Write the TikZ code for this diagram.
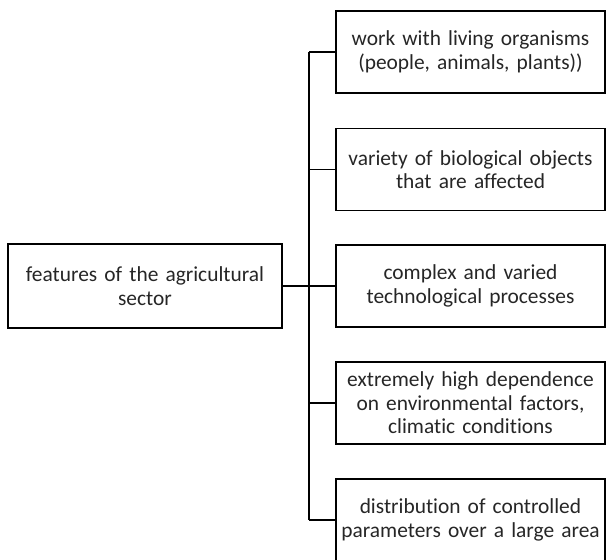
\documentclass[tikz,border=0pt]{standalone}
\usepackage{fontspec}
\setmainfont[Ligatures=NoCommon]{Carlito}
\begin{document}
\begin{tikzpicture}[x=1pt,y=-1pt,
  box/.style={draw=black, line width=1.6pt, inner sep=0pt, align=center,
    font=\fontsize{21.4}{23.5}\selectfont, text=black!85},
  rbox/.style={box, minimum width=269pt, minimum height=82pt, text width=262pt},
  conn/.style={draw=black, line width=1.6pt},
  trunkline/.style={draw=black, line width=2.2pt}]
\useasboundingbox (0,0) rectangle (606,560);
\node[box, minimum width=274pt, minimum height=84pt, text width=266pt] (L) at (145,286) {features of the agricultural\\sector};
\node[rbox] (b1) at (470.5,52) {work with living organisms\\(people, animals, plants))};
\node[rbox] (b2) at (470.5,169.5) {variety of biological objects\\that are affected};
\node[rbox] (b3) at (470.5,286) {complex and varied\\technological processes};
\node[rbox] (b4) at (470.5,403) {extremely high dependence\\on environmental factors,\\climatic conditions};
\node[rbox] (b5) at (470.5,520) {distribution of controlled\\parameters over a large area};
\coordinate (top) at (309,52);
\coordinate (bot) at (309,520);
\coordinate (j) at (309,286);
\draw[trunkline] (top) -- (bot);
\draw[trunkline] (L.east) -- (j);
\foreach \b in {b1,b2,b3,b4,b5} {
  \draw[conn] (j |- \b.west) -- (\b.west);
}
\end{tikzpicture}
\end{document}
